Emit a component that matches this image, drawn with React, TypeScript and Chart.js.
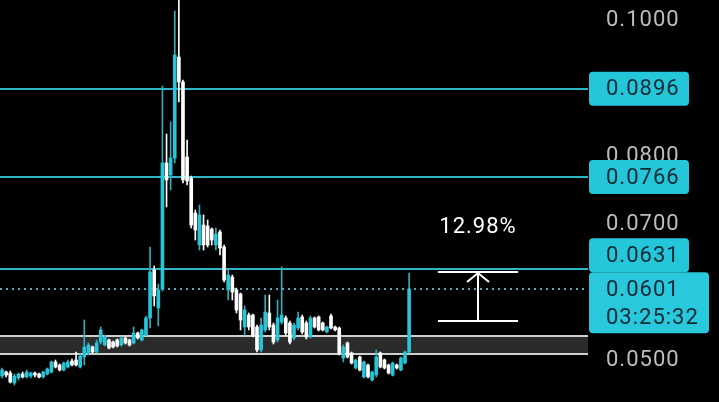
import React, { useEffect, useRef } from "react";
import { Chart, registerables } from "chart.js";

Chart.register(...registerables);

// ---- Candle data (price values) ----
const opens = [
  0.04735, 0.04794, 0.04779, 0.04632, 0.04706, 0.04765, 0.04721, 0.04735, 0.04779, 0.04765,
  0.04721, 0.04765, 0.04794, 0.04941, 0.04897, 0.04824, 0.04868, 0.04956, 0.04971, 0.04868,
  0.05015, 0.05074, 0.05162, 0.05088, 0.05235, 0.05191, 0.05265, 0.05235, 0.05265, 0.05191,
  0.05294, 0.05265, 0.05221, 0.05368, 0.05265, 0.05338, 0.05588, 0.06294, 0.05735, 0.06015,
  0.07868, 0.07691, 0.07941, 0.09426, 0.09059, 0.07956, 0.07647, 0.07132, 0.06662, 0.06956,
  0.06941, 0.06897, 0.06662, 0.06853, 0.06632, 0.06000, 0.06191, 0.06000, 0.05941, 0.05456,
  0.05632, 0.05632, 0.05456, 0.05118, 0.05412, 0.05662, 0.05485, 0.05265, 0.05529, 0.05588,
  0.05515, 0.05294, 0.05441, 0.05603, 0.05515, 0.05309, 0.05588, 0.05603, 0.05515, 0.05382,
  0.05618, 0.05456, 0.05441, 0.05000, 0.05221, 0.05074, 0.04853, 0.05015, 0.04721, 0.04897,
  0.04676, 0.04750, 0.05074, 0.04971, 0.04897, 0.04750, 0.04897, 0.04824, 0.04926, 0.05088,
];
const highs = [
  0.04853, 0.04809, 0.04809, 0.04765, 0.04779, 0.04794, 0.04824, 0.04794, 0.04794, 0.04779,
  0.04809, 0.04853, 0.04956, 0.04971, 0.04912, 0.04941, 0.04971, 0.04985, 0.05088, 0.05059,
  0.05559, 0.05221, 0.05176, 0.05265, 0.05456, 0.05338, 0.05279, 0.05250, 0.05279, 0.05309,
  0.05309, 0.05279, 0.05456, 0.05382, 0.05426, 0.05618, 0.06632, 0.06353, 0.06088, 0.09000,
  0.08294, 0.08471, 0.10103, 0.10400, 0.09088, 0.08206, 0.07676, 0.07176, 0.07250, 0.07103,
  0.07029, 0.06912, 0.06912, 0.06882, 0.06662, 0.06294, 0.06221, 0.06029, 0.05956, 0.05765,
  0.05662, 0.05647, 0.05485, 0.05588, 0.05926, 0.05926, 0.05515, 0.05853, 0.06338, 0.05618,
  0.05544, 0.05515, 0.05676, 0.05632, 0.05544, 0.05618, 0.05603, 0.05618, 0.05529, 0.05471,
  0.05647, 0.05471, 0.05456, 0.05191, 0.05235, 0.05088, 0.04985, 0.05029, 0.04956, 0.04912,
  0.04809, 0.05118, 0.05088, 0.04985, 0.04912, 0.04941, 0.04912, 0.05015, 0.05103, 0.06250,
];
const lows = [
  0.04706, 0.04721, 0.04632, 0.04603, 0.04676, 0.04706, 0.04706, 0.04706, 0.04721, 0.04706,
  0.04706, 0.04750, 0.04779, 0.04853, 0.04809, 0.04809, 0.04853, 0.04882, 0.04882, 0.04853,
  0.04897, 0.05044, 0.05074, 0.05074, 0.05206, 0.05176, 0.05132, 0.05147, 0.05162, 0.05176,
  0.05206, 0.05176, 0.05206, 0.05279, 0.05250, 0.05324, 0.05441, 0.05765, 0.05471, 0.05985,
  0.07221, 0.07471, 0.07868, 0.08765, 0.07574, 0.07544, 0.06912, 0.06735, 0.06588, 0.06588,
  0.06632, 0.06662, 0.06588, 0.06515, 0.06118, 0.05853, 0.05853, 0.05662, 0.05412, 0.05338,
  0.05412, 0.05309, 0.05088, 0.05088, 0.05382, 0.05412, 0.05206, 0.05235, 0.05500, 0.05338,
  0.05206, 0.05265, 0.05412, 0.05353, 0.05279, 0.05294, 0.05441, 0.05397, 0.05397, 0.05368,
  0.05426, 0.05397, 0.05044, 0.04941, 0.05000, 0.04912, 0.04838, 0.04809, 0.04706, 0.04706,
  0.04662, 0.04721, 0.04853, 0.04838, 0.04765, 0.04735, 0.04838, 0.04809, 0.04912, 0.05074,
];
const closes = [
  0.04824, 0.04750, 0.04647, 0.04735, 0.04765, 0.04721, 0.04794, 0.04779, 0.04750, 0.04721,
  0.04794, 0.04838, 0.04941, 0.04868, 0.04824, 0.04926, 0.04941, 0.04897, 0.04897, 0.05029,
  0.05162, 0.05191, 0.05088, 0.05221, 0.05412, 0.05309, 0.05147, 0.05162, 0.05176, 0.05294,
  0.05221, 0.05191, 0.05368, 0.05294, 0.05412, 0.05588, 0.06265, 0.05912, 0.06000, 0.07868,
  0.07618, 0.07941, 0.09456, 0.09059, 0.07618, 0.07603, 0.06956, 0.06882, 0.07103, 0.06662,
  0.06662, 0.06735, 0.06824, 0.06618, 0.06147, 0.06221, 0.05971, 0.05706, 0.05559, 0.05706,
  0.05456, 0.05338, 0.05118, 0.05485, 0.05676, 0.05456, 0.05235, 0.05588, 0.05632, 0.05368,
  0.05235, 0.05485, 0.05588, 0.05382, 0.05309, 0.05588, 0.05456, 0.05412, 0.05412, 0.05456,
  0.05441, 0.05412, 0.05074, 0.05162, 0.05015, 0.04926, 0.04971, 0.04824, 0.04941, 0.04721,
  0.04794, 0.05015, 0.04868, 0.04853, 0.04779, 0.04926, 0.04853, 0.05000, 0.05088, 0.06015,
];

const SLOT_COUNT = 143; // candles + empty future slots
const slotLabels = Array.from({ length: SLOT_COUNT }, (_, i) => String(i));

const yTickValues = [0.05, 0.06, 0.07, 0.08, 0.09, 0.1];
const Y_MIN = 0.043529;
const Y_MAX = 0.102647;

const levelLines = [0.0896, 0.0766, 0.0631];
const currentPrice = 0.0601;
const countdown = "03:25:32";
const bandRange = [0.05059, 0.05324];
const measureRange = [0.05544, 0.06265];
const measureSlots = [106, 125.5];
const measureLabel = "12.98%";
const measureLabelValue = 0.06912;

const UP = "#26c6da";
const UP_WICK = "#33adbd";
const DOWN = "#ffffff";
const LINE = "#2cb4c7";
const FONT = "Roboto, 'Noto Sans', sans-serif";

function roundRect(ctx: CanvasRenderingContext2D, x: number, y: number, w: number, h: number, r: number) {
  ctx.beginPath();
  ctx.moveTo(x + r, y);
  ctx.lineTo(x + w - r, y);
  ctx.quadraticCurveTo(x + w, y, x + w, y + r);
  ctx.lineTo(x + w, y + h - r);
  ctx.quadraticCurveTo(x + w, y + h, x + w - r, y + h);
  ctx.lineTo(x + r, y + h);
  ctx.quadraticCurveTo(x, y + h, x, y + h - r);
  ctx.lineTo(x, y + r);
  ctx.quadraticCurveTo(x, y, x + r, y);
  ctx.closePath();
}

const overlayPlugin = {
  id: "overlay",
  beforeDraw(chart: any) {
    (chart.ctx as any).letterSpacing = "1px";
  },
  beforeDatasetsDraw(chart: any) {
    const { ctx, chartArea: ca, scales } = chart;
    const y = scales.y;
    ctx.save();
    const yTop = y.getPixelForValue(bandRange[1]);
    const yBot = y.getPixelForValue(bandRange[0]);
    ctx.fillStyle = "#2b2b2b";
    ctx.fillRect(ca.left, yTop, ca.right - ca.left, yBot - yTop);
    ctx.strokeStyle = "#cfcfcf";
    ctx.lineWidth = 2;
    [yTop, yBot].forEach((py) => {
      ctx.beginPath();
      ctx.moveTo(ca.left, py);
      ctx.lineTo(ca.right, py);
      ctx.stroke();
    });
    ctx.strokeStyle = LINE;
    ctx.lineWidth = 2;
    levelLines.forEach((v) => {
      const py = Math.round(y.getPixelForValue(v));
      ctx.beginPath();
      ctx.moveTo(ca.left, py);
      ctx.lineTo(ca.right, py);
      ctx.stroke();
    });
    const pc = Math.round(y.getPixelForValue(currentPrice));
    ctx.strokeStyle = "#5aa9b4";
    ctx.setLineDash([2, 4]);
    ctx.beginPath();
    ctx.moveTo(ca.left, pc);
    ctx.lineTo(ca.right, pc);
    ctx.stroke();
    ctx.restore();
  },
  afterDraw(chart: any) {
    const { ctx, chartArea: ca, scales } = chart;
    const y = scales.y;
    const x = scales.x;
    ctx.save();
    (ctx as any).letterSpacing = "1px";
    ctx.font = `22px ${FONT}`;
    ctx.textBaseline = "middle";
    ctx.textAlign = "left";
    const bx = ca.right + 1;
    const textX = ca.right + 18;
    // current price box
    const pc = y.getPixelForValue(currentPrice);
    const curTop = pc - 17;
    const curH = 61;
    ctx.fillStyle = "#2ac8dc";
    roundRect(ctx, bx, curTop, 120, curH, 4);
    ctx.fill();
    ctx.fillStyle = "#0b2b35";
    ctx.fillText(currentPrice.toFixed(4), textX, pc + 1);
    ctx.fillText(countdown, textX, pc + 29);
    // level boxes
    levelLines.forEach((v) => {
      const py = y.getPixelForValue(v);
      let top = py - 17;
      if (top + 34 > curTop && top < curTop + curH) top = curTop - 34;
      ctx.fillStyle = UP;
      roundRect(ctx, bx, top, 100, 34, 4);
      ctx.fill();
      ctx.fillStyle = "#0b2b35";
      ctx.fillText(v.toFixed(4), textX, top + 18);
    });
    // measure tool
    const x0 = x.getPixelForValue(measureSlots[0]);
    const x1 = x.getPixelForValue(measureSlots[1]);
    const xm = (x0 + x1) / 2;
    const yt = Math.round(y.getPixelForValue(measureRange[1]));
    const yb = Math.round(y.getPixelForValue(measureRange[0]));
    ctx.strokeStyle = "#ffffff";
    ctx.lineWidth = 2;
    ctx.beginPath();
    ctx.moveTo(x0, yt);
    ctx.lineTo(x1, yt);
    ctx.moveTo(x0, yb);
    ctx.lineTo(x1, yb);
    ctx.moveTo(xm, yt + 1);
    ctx.lineTo(xm, yb);
    ctx.moveTo(xm - 11, yt + 10);
    ctx.lineTo(xm, yt + 1);
    ctx.lineTo(xm + 11, yt + 10);
    ctx.stroke();
    ctx.fillStyle = "#ffffff";
    ctx.textAlign = "center";
    ctx.fillText(measureLabel, xm, y.getPixelForValue(measureLabelValue));
    ctx.restore();
  },
};

export default function App() {
  const ref = useRef<HTMLCanvasElement | null>(null);
  useEffect(() => {
    document.body.style.margin = "0";
    document.body.style.background = "#000";
    const n = opens.length;
    const wickData = slotLabels.map((_, i) => (i < n ? [lows[i], highs[i]] : null));
    const bodyData = slotLabels.map((_, i) => (i < n ? [opens[i], closes[i]] : null));
    const isUp = slotLabels.map((_, i) => (i < n ? closes[i] >= opens[i] : true));
    const chart = new Chart(ref.current as HTMLCanvasElement, {
      type: "bar",
      data: {
        labels: slotLabels,
        datasets: [
          {
            label: "body",
            data: bodyData as any,
            backgroundColor: isUp.map((u) => (u ? UP : DOWN)),
            barThickness: 3,
            minBarLength: 1,
            grouped: false,
            order: 0,
          },
          {
            label: "wick",
            data: wickData as any,
            backgroundColor: isUp.map((u) => (u ? UP_WICK : DOWN)),
            barThickness: 1,
            grouped: false,
            order: 1,
          },
        ],
      },
      options: {
        animation: false,
        responsive: true,
        maintainAspectRatio: false,
        layout: { padding: 0 },
        plugins: { legend: { display: false }, tooltip: { enabled: false } },
        scales: {
          x: { display: false, offset: true },
          y: {
            position: "right",
            min: Y_MIN,
            max: Y_MAX,
            grid: { display: false, drawTicks: false },
            border: { display: false },
            afterFit: (s: any) => {
              s.width = 131;
              s.paddingTop = 0;
              s.paddingBottom = 0;
            },
            afterBuildTicks: (s: any) => {
              s.ticks = yTickValues.map((v) => ({ value: v }));
            },
            ticks: {
              padding: 18,
              labelOffset: 3,
              color: "#bdbdbd",
              font: { family: FONT, size: 22 },
              callback: (v: any) => Number(v).toFixed(4),
            },
          },
        },
      },
      plugins: [overlayPlugin],
    });
    return () => chart.destroy();
  }, []);
  return (
    <div style={{ position: "fixed", left: 0, top: 0, width: 719, height: 402, background: "#000" }}>
      <canvas ref={ref} />
    </div>
  );
}
